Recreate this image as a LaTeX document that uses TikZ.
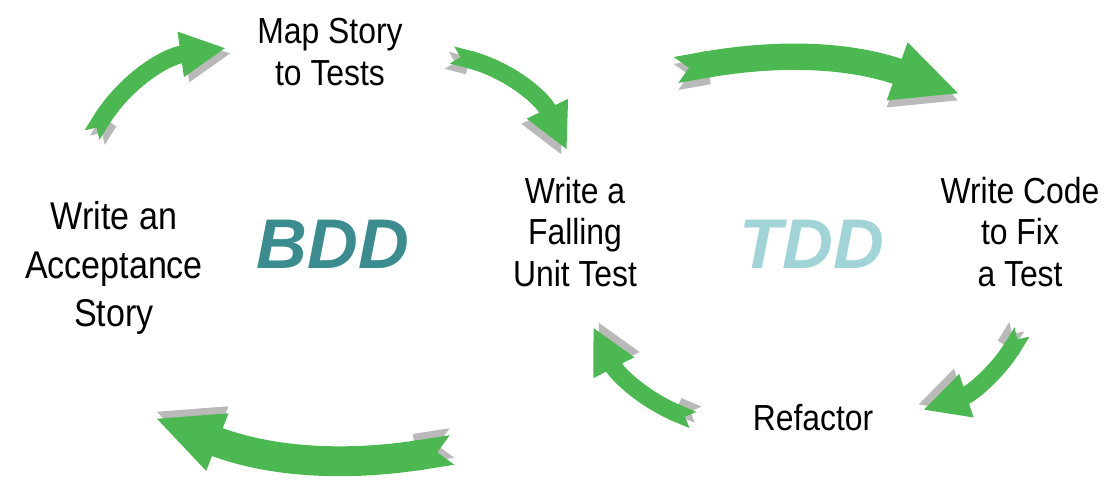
\documentclass[tikz,border=0pt]{standalone}
\usepackage{fontspec}
\setmainfont{Liberation Sans}
\newfontfamily\lblfont[FakeStretch=0.88]{Liberation Sans}
\usetikzlibrary{arrows.meta}
\definecolor{swgreen}{RGB}{76,184,82}
\definecolor{bddteal}{RGB}{59,140,143}
\definecolor{tddteal}{RGB}{160,212,214}
\begin{document}
\begin{tikzpicture}[x=0.01cm,y=-0.01cm,
	lbl/.append style={font=\lblfont\fontsize{10.3}{11.9}\selectfont,align=center,inner sep=0pt},
	big/.append style={font=\bfseries\itshape\fontsize{20}{22}\selectfont,inner sep=0pt},
	sw/.append style={draw=swgreen,line width=5pt,{Triangle Cap[reversed]}-{Triangle[length=13pt,width=12pt]}},
	wide/.append style={line width=7.5pt,{Triangle Cap[reversed]}-{Triangle[length=19pt,width=16pt]}},
	shd/.style={preaction={draw=gray!55,transform canvas={shift={#1}}}}]
\useasboundingbox (0,0) rectangle (1104,479);
\node[lbl] (map) at (330,52) {Map Story\\to Tests};
\node[lbl,font=\lblfont\fontsize{11}{13.9}\selectfont] (story) at (114,268) {Write an\\Acceptance\\Story};
\node[lbl] (fail) at (575,232) {Write a\\Falling\\Unit Test};
\node[lbl] (code) at (1020,232) {Write Code\\to Fix\\a Test};
\node[lbl] (ref) at (813,418) {Refactor};
\node[big,text=bddteal] (bdd) at (333,244) {BDD};
\node[big,text=tddteal] (tdd) at (812,244) {TDD};
\coordinate (s1) at (92,135);  \coordinate (e1) at (226,48);
\coordinate (s2) at (452,55);  \coordinate (e2) at (567,150);
\coordinate (s3) at (676,70);  \coordinate (e3) at (960,94);
\coordinate (s4) at (1022,332); \coordinate (e4) at (923,410);
\coordinate (s5) at (693,420); \coordinate (e5) at (593,327);
\coordinate (s6) at (452,450); \coordinate (e6) at (155,418);
\draw[sw,shd={(1.5pt,-1.5pt)}] (s1) to[bend left=25] (e1);
\draw[sw,shd={(-1.5pt,-1.5pt)}] (s2) to[bend left=25] (e2);
\draw[sw,wide,shd={(0pt,-2pt)}] (s3) to[bend left=15] (e3);
\draw[sw,shd={(-1.5pt,1.5pt)}] (s4) to[bend left=20] (e4);
\draw[sw,shd={(1.5pt,1.5pt)}] (s5) to[bend left=20] (e5);
\draw[sw,wide,line width=8.5pt,shd={(0pt,2pt)}] (s6) to[bend left=15] (e6);
\end{tikzpicture}
\end{document}
